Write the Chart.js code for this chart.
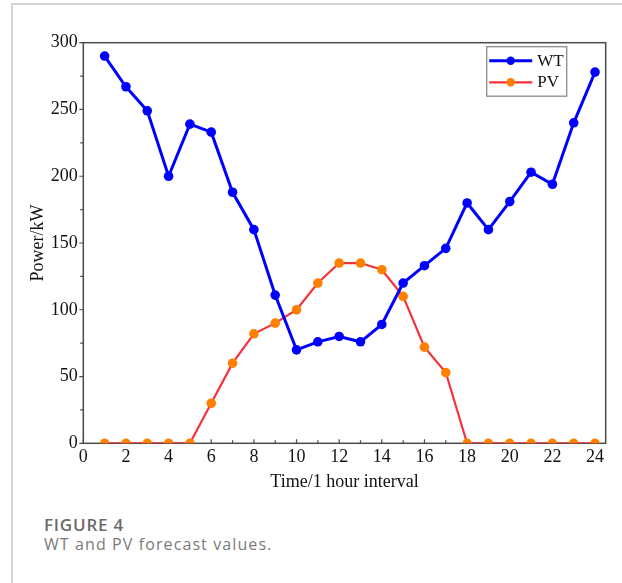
<!DOCTYPE html>
<html>
<head>
<meta charset="utf-8">
<script src="https://cdn.jsdelivr.net/npm/chart.js@4/dist/chart.umd.min.js"></script>
<style>
  html, body { margin: 0; padding: 0; background: #fff; }
  body { width: 622px; height: 583px; position: relative; overflow: hidden; }
  .frame-left { position: absolute; left: 11px; top: 3px; width: 1.5px; height: 580px; background: #d4d4d4; }
  .frame-top { position: absolute; left: 11px; top: 3px; width: 611px; height: 1.5px; background: #d4d4d4; }
  #wrap { position: absolute; left: 0; top: 0; width: 622px; height: 500px; }
  .cap-title { position: absolute; left: 44px; top: 516px; font: 600 17px/1 "Open Sans", Lato, sans-serif; letter-spacing: 0.8px; color: #6a6a6a; margin: 0; white-space: nowrap; }
  .cap-text { position: absolute; left: 44px; top: 536px; font: 400 16px/1 "Open Sans", Lato, sans-serif; letter-spacing: 1.1px; color: #7a7a7a; margin: 0; white-space: nowrap; }
</style>
</head>
<body>
<div class="frame-left"></div>
<div class="frame-top"></div>
<div id="wrap"><canvas id="c" width="622" height="500"></canvas></div>
<p class="cap-title">FIGURE 4</p>
<p class="cap-text">WT and PV forecast values.</p>
<script>
// Hourly intervals and forecast power (kW)
const hours = [1, 2, 3, 4, 5, 6, 7, 8, 9, 10, 11, 12, 13, 14, 15, 16, 17, 18, 19, 20, 21, 22, 23, 24];
const wtPower = [290, 267, 249, 200, 239, 233, 188, 160, 111, 70, 76, 80, 76, 89, 120, 133, 146, 180, 160, 181, 203, 194, 240, 278];
const pvPower = [0, 0, 0, 0, 0, 30, 60, 82, 90, 100, 120, 135, 135, 130, 110, 72, 53, 0, 0, 0, 0, 0, 0, 0];
const xTickValues = [0, 2, 4, 6, 8, 10, 12, 14, 16, 18, 20, 22, 24];
const yTickValues = [0, 50, 100, 150, 200, 250, 300];

const SERIF = "'Liberation Serif', 'Times New Roman', serif";

const toPoints = (vals) => hours.map((h, i) => ({ x: h, y: vals[i] }));

// Plot frame plus Origin-style ticks: x ticks point inward, y ticks outward
const frameAndTicks = {
  id: 'frameAndTicks',
  beforeDatasetsDraw(chart) {
    const { ctx, chartArea: a, scales: { x, y } } = chart;
    ctx.save();
    ctx.strokeStyle = '#4a4a4a';
    ctx.lineWidth = 1.5;
    ctx.strokeRect(a.left, a.top, a.right - a.left, a.bottom - a.top);
    ctx.lineWidth = 1.2;
    ctx.beginPath();
    for (let v = 0; v <= 24; v += 1) {
      const px = x.getPixelForValue(v);
      const len = v % 2 === 0 ? 4 : 3;
      ctx.moveTo(px, a.bottom);
      ctx.lineTo(px, a.bottom - len);
    }
    for (let v = 0; v <= 300; v += 25) {
      const py = y.getPixelForValue(v);
      const len = v % 50 === 0 ? 4 : 3;
      ctx.moveTo(a.left, py);
      ctx.lineTo(a.left - len, py);
    }
    ctx.stroke();
    ctx.restore();
  }
};

// Boxed legend in the upper right corner of the plot
const boxLegend = {
  id: 'boxLegend',
  afterDatasetsDraw(chart) {
    const { ctx, chartArea: a } = chart;
    const bx = a.right - 39, by = a.top + 4, bw = 80, bh = 49.5;
    const left = bx - bw;
    ctx.save();
    ctx.fillStyle = '#fff';
    ctx.fillRect(left, by, bw, bh);
    ctx.strokeStyle = '#8a8a8a';
    ctx.lineWidth = 1.3;
    ctx.strokeRect(left, by, bw, bh);
    const rows = [by + 14, by + 35.6];
    chart.data.datasets.forEach((ds, i) => {
      const cy = rows[i];
      ctx.strokeStyle = ds.borderColor;
      ctx.lineWidth = ds.borderWidth;
      ctx.beginPath();
      ctx.moveTo(left + 2.5, cy);
      ctx.lineTo(left + 45.5, cy);
      ctx.stroke();
      ctx.fillStyle = ds.pointBackgroundColor;
      ctx.beginPath();
      ctx.arc(left + 24, cy, 4.2, 0, Math.PI * 2);
      ctx.fill();
      ctx.fillStyle = '#111';
      ctx.font = '17px ' + SERIF;
      ctx.textBaseline = 'middle';
      ctx.textAlign = 'left';
      ctx.fillText(ds.label, left + 50.5, cy + 0.5);
    });
    ctx.restore();
  }
};

new Chart(document.getElementById('c'), {
  type: 'line',
  data: {
    datasets: [
      {
        label: 'WT',
        data: toPoints(wtPower),
        borderColor: '#0000ff',
        backgroundColor: '#0000ff',
        pointBackgroundColor: '#0000ff',
        pointBorderColor: '#0000ff',
        borderWidth: 3,
        pointRadius: 4.8,
        pointBorderWidth: 0,
        tension: 0
      },
      {
        label: 'PV',
        data: toPoints(pvPower),
        borderColor: '#f5333b',
        backgroundColor: '#f5333b',
        pointBackgroundColor: '#ff8000',
        pointBorderColor: '#ff8000',
        borderWidth: 2.2,
        pointRadius: 4.8,
        pointBorderWidth: 0,
        tension: 0
      }
    ]
  },
  options: {
    responsive: false,
    devicePixelRatio: 1,
    animation: false,
    layout: { padding: { left: 0, top: 42.7, right: 16.3, bottom: 0 } },
    plugins: { legend: { display: false }, tooltip: { enabled: false } },
    scales: {
      x: {
        type: 'linear',
        min: 0,
        max: 24.5,
        grid: { display: false, drawTicks: false },
        border: { display: false },
        afterBuildTicks(scale) { scale.ticks = xTickValues.map(v => ({ value: v })); },
        afterFit(scale) { scale.height = 56.7; },
        ticks: {
          padding: 3,
          color: '#111',
          font: { family: SERIF, size: 18 },
          maxRotation: 0,
          autoSkip: false
        },
        title: {
          display: true,
          text: 'Time/1 hour interval',
          color: '#111',
          font: { family: SERIF, size: 18 },
          padding: { top: 0, bottom: 7.2 }
        }
      },
      y: {
        min: 0,
        max: 300,
        grid: { display: false, drawTicks: false },
        border: { display: false },
        afterBuildTicks(scale) { scale.ticks = yTickValues.map(v => ({ value: v })); },
        afterFit(scale) { scale.width = 83.3; },
        ticks: {
          padding: 5.5,
          color: '#111',
          font: { family: SERIF, size: 18 },
          autoSkip: false
        },
        title: {
          display: true,
          text: 'Power/kW',
          color: '#111',
          font: { family: SERIF, size: 18 },
          padding: { top: 27.6, bottom: 0 }
        }
      }
    }
  },
  plugins: [frameAndTicks, boxLegend]
});
</script>
</body>
</html>
